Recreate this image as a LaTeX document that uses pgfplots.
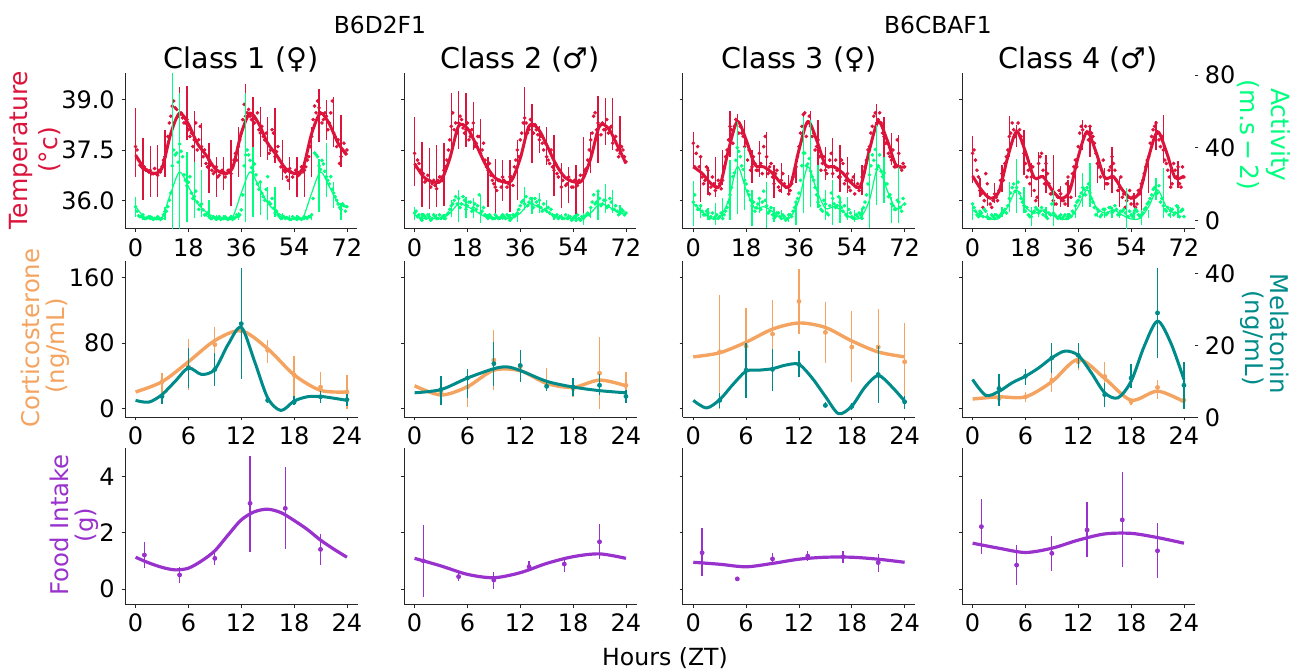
\documentclass[border=0pt]{standalone}
\usepackage{fontspec}
\setmainfont{DejaVu Sans}
\usepackage{pgfplots}
\usepackage{pgfplotstable}
\pgfplotsset{compat=1.18}

\definecolor{crim}{HTML}{DC143C}
\definecolor{sgreen}{HTML}{00FF7F}
\definecolor{sandy}{HTML}{F4A460}
\definecolor{dcyan}{HTML}{008B8B}
\definecolor{orchid}{HTML}{9932CC}

% hourly temperature (t) and activity (a) readings, one pair per class
\pgfplotstableread{
h t1 a1 t2 a2 t3 a3 t4 a4
0 37.6 7.5 37.4 4 37.7 10 37.4 9
1 37.2 2.5 37.2 2 37.4 8 37.2 5
2 37.0 2 36.9 1 37.0 6 36.7 2
3 37.0 1 36.8 3 36.7 5 36.2 4
4 36.9 1.5 36.6 1 36.6 3 36.0 6
5 36.9 1 36.6 2 36.9 4 36.5 2
6 36.8 .5 36.5 1 36.4 2 35.9 1
7 36.8 1 36.45 2 36.5 1 36.0 2
8 36.9 1 36.6 1 36.4 3 36.1 3
9 37.0 1 36.7 1 36.5 2 36.3 2
10 37.3 4.8 36.9 2 36.6 1 36.8 4
11 37.9 7.5 37.2 3 37.3 5 37.1 6
12 38.5 15 37.8 6 37.8 10 37.5 8
13 38.95 38.7 38.6 9 38.1 18 38.0 15
14 38.7 37 38.3 13 38.2 26 38.1 20
15 38.55 42 38.3 12 38.3 40 38.05 18
16 38.45 35 38.4 9 38.2 35 38.1 15
17 38.3 22 38.0 11 37.9 28 37.7 10
18 38.1 21 38.3 8 37.7 20 37.1 5
19 38.0 15 37.9 10 37.5 14 36.9 3
20 37.8 13 38.3 7 37.0 8 36.7 2
21 37.5 10 37.7 6 37.1 5 36.3 5
22 38.2 8.4 37.9 14 36.9 9 36.1 6
23 37.3 5.7 37.5 5 37.1 6 37.3 5
24 37.1 3 37.2 3 37.6 16 36.9 3
25 37.2 2 36.9 1 37.3 8 37.1 2
26 36.9 1 36.75 2 37.0 5 36.5 4
27 36.85 1.5 36.5 1 36.7 3 36.2 9
28 36.7 1 36.3 2 36.8 2 35.9 3
29 36.85 .5 36.6 1 36.4 4 36.1 1
30 36.85 1 36.7 3 36.6 1 36.2 3
31 36.8 1 36.55 1 36.5 2 36.0 2
32 36.9 1 36.5 2 36.4 1 36.5 1
33 37.0 .5 36.7 1 36.3 3 36.4 3
34 37.4 1.5 37.0 2 36.7 5 36.8 5
35 37.6 2 37.5 4 37.0 10 37.2 8
36 38.0 5.7 37.8 8 37.6 15 37.6 11
37 38.85 30 38.3 11 38.2 30 38.2 15
38 38.6 38.7 38.3 13 38.6 37 37.9 17
39 38.5 33 38.1 10 38.3 31 38.0 18
40 38.5 27 38.2 9 38.2 27 38.2 15
41 38.4 25 38.25 12 38.0 22 37.9 10
42 38.1 17 37.95 8 37.6 14 37.4 3
43 38.2 15 37.9 7 37.3 8 37.0 5
44 37.8 11 37.5 9 37.1 5 36.9 3
45 37.7 24 37.3 5 36.9 9 36.7 6
46 37.5 9 37.1 4 37.0 3 36.5 4
47 38.0 6.6 37.0 3 37.4 15 37.0 7
48 37.45 5 37.1 2 37.0 9 37.1 5
49 37.2 2 36.7 1 36.9 8 36.6 6
50 37.0 1.5 36.4 2 36.7 10 36.4 3
51 36.85 1 36.7 1 37.1 5 36.1 5
52 36.6 1 36.5 1 36.6 3 35.8 4
53 36.85 .5 36.6 2 36.4 6 36.1 2
54 36.8 1 36.4 1 36.6 2 35.9 3
55 36.8 .5 36.55 0 36.2 1 36.1 4
56 36.8 1 36.6 1 36.5 2 35.9 5
57 36.85 1 36.6 2 36.4 3 36.2 2
58 37.0 1.5 36.9 2 36.8 7 36.6 4
59 37.3 2 37.2 4 37.2 14 37.0 7
60 37.9 3 37.8 7 37.6 25 37.3 10
61 38.8 37 38.5 14 38.2 36 37.9 14
62 38.95 35 38.1 10 38.6 39 38.2 18
63 38.6 28 38.2 12 38.4 30 38.0 15
64 38.4 31 38.3 9 38.3 27 37.6 10
65 38.5 24 38.1 11 37.9 26 37.5 8
66 38.3 20 38.0 8 37.7 20 37.1 5
67 38.95 17 38.2 10 37.3 14 36.7 3
68 37.9 13 37.8 6 37.5 8 36.5 6
69 37.8 9 37.5 5 37.0 6 36.9 4
70 37.3 6 37.4 4 37.4 10 37.0 7
71 37.7 8 37.5 5 36.9 5 36.4 5
72 37.5 7.5 37.15 4 37.0 9 36.7 2
}\hourly

% readings on the half hour
\pgfplotstableread{
h t1 a1 t2 a2 t3 a3 t4 a4
.5 37.5 5 37.0 5 37.0 14 37.5 7
1.5 37.05 2 37.1 3 37.6 6 36.9 3
2.5 36.95 3 36.8 0 37.3 8 36.3 5
3.5 36.9 1 36.55 2 36.5 3 35.8 2
4.5 36.85 2 36.75 3 37.0 5 36.8 5
5.5 36.8 1.5 36.4 0 36.2 1 36.1 1
6.5 36.95 1 36.6 3 36.7 4 35.8 3
7.5 36.75 2 36.35 1 36.3 2 36.2 1
8.5 36.85 .5 36.7 3 36.6 1 36.0 2
9.5 37.2 3 36.6 2 36.35 4 36.6 3
10.5 37.6 5 37.0 1 37.0 3 36.6 5
11.5 38.3 11 37.5 4 37.5 7 37.3 4
12.5 38.8 30 38.2 8 38.2 14 37.9 12
13.5 38.75 36 38.1 11 37.7 24 38.3 18
14.5 38.5 32 38.0 9 38.4 33 37.9 16
15.5 38.6 38 38.5 7 38.0 38 38.3 21
16.5 38.3 25 38.15 13 38.0 30 37.9 12
17.5 38.4 19 38.1 6 37.6 22 37.4 8
18.5 37.9 24 37.8 10 37.2 16 36.7 7
19.5 37.6 12 38.1 5 36.9 11 36.5 2
20.5 38.3 16 37.6 9 37.3 10 37.0 4
21.5 37.8 6 37.9 8 36.9 7 36.0 7
22.5 37.6 9 37.4 4 37.4 12 37.1 4
23.5 37.5 3 37.7 7 36.8 10 37.4 7
24.5 37.0 4 37.0 2 37.9 11 36.5 5
25.5 37.05 1 37.1 3 36.8 4 36.8 1
26.5 36.8 2 36.6 1 37.1 7 36.2 3
27.5 37.0 .5 36.4 3 36.5 1 36.0 4
28.5 36.75 2 36.6 1 36.9 4 35.9 2
29.5 36.9 1 36.4 2 36.3 2 36.3 2
30.5 36.7 2 36.6 2 36.8 3 36.0 1
31.5 36.9 .5 36.4 3 36.4 0 35.9 3
32.5 36.8 2 36.7 0 36.2 3 36.7 2
33.5 37.2 1 36.45 3 36.5 2 36.1 2
34.5 37.2 3 37.2 3 36.9 7 37.0 4
35.5 37.8 3 37.3 6 37.3 12 37.0 10
36.5 38.4 14 38.0 10 38.0 22 38.0 13
37.5 38.5 36 38.45 9 38.55 37 38.1 18
38.5 38.7 36 38.0 8 37.9 30 38.2 14
39.5 38.4 29 38.4 12 38.5 34 37.8 20
40.5 38.3 31 38.0 7 37.9 24 38.0 12
41.5 38.6 20 38.1 10 37.5 18 37.7 7
42.5 38.0 21 37.8 11 37.8 10 37.1 6
43.5 37.9 13 37.7 5 36.9 6 36.7 2
44.5 38.0 17 37.7 6 37.3 11 37.2 6
45.5 37.4 10 37.2 7 36.8 4 36.5 3
46.5 38.1 12 37.5 6 37.2 8 36.9 7
47.5 37.3 4 36.9 2 36.8 12 37.3 4
48.5 37.6 3 36.8 3 37.2 7 36.9 8
49.5 37.0 1 36.9 2 36.7 13 36.3 3
50.5 36.9 2 36.6 1 37.2 7 36.7 5
51.5 36.7 1.5 36.45 3 36.5 8 36.2 6
52.5 36.95 .5 36.7 2 36.8 2 36.0 2
53.5 36.7 2 36.4 0 36.3 4 36.3 5
54.5 36.9 1 36.6 2 36.7 1 36.1 2
55.5 36.75 1.5 36.45 3 36.4 3 35.8 6
56.5 37.0 .5 36.75 0 36.3 4 36.3 3
57.5 36.9 2 36.75 1 36.7 1 36.5 3
58.5 37.2 1 36.95 3 37.0 10 36.8 6
59.5 37.6 2 37.5 3 37.5 20 37.2 9
60.5 38.4 12 38.0 10 38.0 30 37.7 12
61.5 38.6 36 38.6 9 38.5 33 38.1 17
62.5 38.75 30 38.3 16 38.3 28 38.3 15
63.5 38.3 33 37.95 8 38.6 36 37.8 19
64.5 38.6 27 38.1 11 38.0 24 37.9 12
65.5 38.1 22 38.4 7 37.7 20 37.2 6
66.5 38.6 24 38.15 12 37.4 13 36.9 7
67.5 38.0 15 37.7 6 37.2 9 36.4 5
68.5 37.6 11 37.9 8 37.0 6 37.1 3
69.5 37.1 7 37.3 3 37.8 11 36.7 8
70.5 37.5 9 37.6 6 37.0 7 36.5 2
71.5 37.4 5 37.3 3 37.1 12 37.0 6
}\halfhourly

% fitted curves of the top row
\pgfplotstableread{
h t1 a1 t2 a2 t3 a3 t4 a4
0 37.35 7.5 37.1 3 37.0 9.4 36.73 5.7
3 36.96 1.7 36.71 1 36.81 4.8 36.32 2.9
6 36.81 .7 36.56 1 36.51 1.1 36.07 .7
9 36.96 1.5 36.59 1 36.44 1.5 36.27 1.1
12 37.99 15 37.25 3.9 37.5 11 37.3 7.5
15 38.59 26.6 38.21 9 38.34 29.5 38.04 16.7
18 38.27 18.5 38.14 7.5 37.8 16.7 37.45 7.5
21 37.70 9.5 37.65 4.8 37.06 6.6 36.68 3.9
24 37.35 4.6 37.1 2 37.0 7.5 36.71 5.7
27 36.96 1.7 36.71 1 36.81 4.8 36.32 2.9
30 36.81 .7 36.56 1 36.51 1.1 36.07 .7
33 36.96 1.5 36.59 1 36.44 1.5 36.27 1.1
36 37.99 15 37.25 3.9 37.5 11 37.3 7.5
39 38.59 26.6 38.21 9 38.34 29.5 38.04 16.7
42 38.27 18.5 38.14 7.5 37.8 16.7 37.45 7.5
45 37.70 9.5 37.65 4.8 37.06 6.6 36.68 3.9
48 37.35 4.6 37.1 2 37.0 7.5 36.71 5.7
51 36.96 1.7 36.71 1 36.81 4.8 36.32 2.9
54 36.81 .7 36.56 1 36.51 1.1 36.07 .7
57 36.96 1.5 36.59 1 36.44 1.5 36.27 1.1
60 37.99 15 37.25 3.9 37.5 11 37.3 7.5
63 38.59 26.6 38.21 9 38.34 29.5 38.04 16.7
66 38.27 18.5 38.14 7.5 37.8 16.7 37.45 7.5
69 37.70 9.5 37.65 4.8 37.06 6.6 36.68 3.9
72 37.35 7 37.1 3 37.0 9.4 36.73 5.7
}\topcurves

% error bars of the top row: low and high ends
\pgfplotstableread{
x tlo thi alo ahi
0 36.71 38.73 2 13
2.5 36.02 37.85 0 3
5 36.12 37.63 0 3
7.5 36.12 37.65 0 3
10 36.71 38.09 .2 7.5
12.5 37.1 38.64 -5 81
15 37.8 39.36 -5 70
17.5 37.8 39.38 -.7 37.8
20 37.0 38.64 1 32
22.5 37.0 38.29 2 27.7
25 36.22 37.7 1 11
27.5 36.12 37.3 0 3
30 36.32 37.3 0 3
32.5 35.83 37.8 0 3
35 36.71 38.19 0 4.8
37.5 37.8 39.45 -.7 70
40 37.6 39.08 2 40.5
42.5 37.3 38.78 3 22
45 37.2 38.49 0 18.5
47.5 37.1 38.73 2 18.5
50 36.61 37.8 0 3.9
52.5 36.32 37.3 0 3
55 36.12 37.3 0 3
57.5 36.12 37.2 0 3
60 36.71 38.19 0 3.9
62.5 37.75 39.3 4.8 34
65 37.8 38.98 13 42.4
67.5 37.6 39.08 6.6 21
70 37.0 38.54 0 9.4
}\barsA
\pgfplotstableread{
x tlo thi alo ahi
0 36.44 38.49 .2 7.5
2.5 35.82 37.75 -.2 3.9
5 35.75 37.55 -.2 3.9
7.5 35.82 37.65 0 3.5
10 35.84 37.7 0 3.5
12.5 37.4 39.18 2 11
15 37.52 39.25 -.7 16.7
17.5 37.6 39.18 1 13
20 37.5 38.91 1 12
22.5 37.4 38.42 -1.3 14
25 35.82 37.3 0 3.5
27.5 35.51 37.23 0 3.5
30 36.0 37.2 0 3.5
32.5 35.66 37.2 0 3.5
35 36.02 37.8 -.7 5.7
37.5 37.6 39.36 5.7 18.5
40 37.1 38.86 3.5 13
42.5 37.4 38.21 3.9 15
45 37.06 38.19 3.9 11
47.5 36.15 37.95 0 3.5
50 35.78 37.1 0 3.5
52.5 35.92 37.0 0 3.5
55 35.48 37.06 0 3.5
57.5 35.56 37.88 -2.6 3.9
60 36.81 38.04 1 7.5
62.5 37.1 39.11 .2 15.8
65 37.65 39.05 3.9 19.8
67.5 37.5 39.05 3.9 16.7
70 37.45 38.51 2.9 8.4
}\barsB
\pgfplotstableread{
x tlo thi alo ahi
0 37.0 38.04 -2.9 21.7
2.5 35.97 37.25 1.1 7.5
5 36.17 37.0 .2 6.6
7.5 36.12 37.28 -2.6 9.4
10 36.47 37.5 .2 12
12.5 37.3 38.64 .2 33.2
15 37.5 38.56 3.5 54.3
17.5 37.2 38.39 5.7 40.6
20 36.51 37.5 -2.9 16.7
22.5 36.71 37.78 3.9 11.2
25 36.66 38.04 -4 21.3
27.5 36.07 37.06 -1 7.5
30 36.22 37.1 .2 5.7
32.5 36.17 36.76 -.7 3.9
35 36.51 37.1 -2.6 9.4
37.5 37.0 38.54 3.9 57
40 37.3 38.65 7.5 55
42.5 37.0 38.39 6.6 30.5
45 36.61 37.6 .2 16.7
47.5 36.66 37.85 -2.6 22.2
50 36.27 37.65 -1.3 13
52.5 36.22 37.28 .2 13
55 36.42 36.81 -.7 5.7
57.5 36.17 37.06 .2 6.6
60 36.32 37.4 -4.4 36.9
62.5 37.5 38.85 8.4 52.5
65 37.2 38.49 9.4 35
67.5 37.06 37.99 -1.7 13
70 36.51 37.94 -1.7 29.5
}\barsC
\pgfplotstableread{
x tlo thi alo ahi
0 36.51 37.92 .2 10.3
2.5 36.12 36.66 2 5.7
5 35.84 36.22 .2 3.9
7.5 35.92 36.51 .2 3.9
10 36.27 37.06 2 7.5
12.5 37.3 38.51 4.8 21.3
15 37.6 38.24 3.9 34
17.5 36.76 38.09 3.9 18.5
20 36.12 37.1 -2.9 7.5
22.5 35.82 37.45 2 5.7
25 36.22 37.35 1.1 7.5
27.5 35.73 37.35 -2.9 16.7
30 35.82 36.42 .2 3.9
32.5 35.82 36.61 .2 3.9
35 36.12 37.0 1.1 7.5
37.5 37.5 38.39 7.5 25.9
40 37.3 38.24 7.5 31.4
42.5 36.51 37.3 2 5.7
45 36.32 36.96 1.1 5.7
47.5 36.22 37.6 1.1 7.5
50 35.82 36.66 1.1 5.7
52.5 35.53 36.37 -4.8 17.6
55 35.82 36.22 .2 5.7
57.5 35.63 36.37 -2.6 5.7
60 36.22 37.1 1.1 5.7
62.5 37.5 38.37 11.2 23
65 37.1 38.54 1.1 28.6
67.5 36.42 37.16 1.1 7.5
70 36.37 37.16 1.1 8.4
}\barsD

% hormones: point, low and high end, every 3 h
\pgfplotstableread{
x c clo chi m mlo mhi
3 32.5 8 43 5.8 3.8 6.6
6 51 22 85 13.7 8.2 19.3
9 78 57 100 13.3 8.6 17.9
12 95 55 135 26 10.5 41.6
15 71 55 84 4.7 4 5.4
18 41 10 64 4.2 3.5 5.8
21 26 6 45 5.7 4 7.2
24 20 -1 41 4.9 3 6.6
}\hormA
\pgfplotstableread{
x c clo chi m mlo mhi
3 20 4 39 7.7 3.5 11.4
6 26 2 47 10.9 5.4 13.5
9 59 22 96 14.9 8.6 20.9
12 51 33 71 14.4 9.8 18.8
15 30 22 49 8.6 7.2 10
18 24 14 37 8.4 5.8 10.9
21 43 -1 87 8.9 6.3 11.9
24 28 10 45 5.8 4 7.7
}\hormB
\pgfplotstableread{
x c clo chi m mlo mhi
3 69 -1 139 4.7 2.6 6.8
6 76 30 123 13.1 5.4 20.7
9 91 53 133 13.3 7.2 19.1
12 131 91 171 14.7 11.1 18.4
15 93 56 130 3.3 2.6 4.2
18 75 32 119 3 2.1 4
21 75 30 122 11.9 4 19.8
24 57 6 104 4.3 2.3 5.8
}\hormC
\pgfplotstableread{
x c clo chi m mlo mhi
3 12 4 24 8 3.2 12
6 14 8 20 11.4 9.1 13.5
9 34.5 20 43 16.5 12.3 20.7
12 57 47.5 67 17.2 13.7 20.7
15 39 12 57 6.3 2.9 9.6
18 8 4 12 10.9 8.2 14.7
21 25.6 12 35 29 16.5 41.6
24 10 7 14 8.9 2.3 15.4
}\hormD

% food intake
\pgfplotstableread{
x y lo hi
1 1.21 .74 1.68
5 .5 .23 .77
9 1.09 .85 1.39
13 3.05 1.33 4.74
17 2.87 1.41 4.33
21 1.41 .85 1.95
}\foodA
\pgfplotstableread{
x y lo hi
1 1.0 -.3 2.28
5 .44 .3 .56
9 .32 0 .62
13 .79 .65 1.01
17 .89 .59 1.15
21 1.68 1.06 2.31
}\foodB
\pgfplotstableread{
x y lo hi
1 1.29 .46 2.16
5 .36 .32 .40
9 1.07 .85 1.27
13 1.17 1.01 1.36
17 1.15 .94 1.36
21 .94 .62 1.23
}\foodC
\pgfplotstableread{
x y lo hi
1 2.22 1.25 3.19
5 .85 .14 1.57
9 1.27 .65 1.89
13 2.1 1.13 3.08
17 2.46 .77 4.15
21 1.36 .38 2.36
}\foodD

\pgfplotsset{
  panel/.style={
    scale only axis, width=116.25pt, anchor=south west,
    axis x line*=bottom, axis y line*=left,
    axis line style={-, line width=.5pt, black!85},
    tick style={line width=.4pt, black!85},
    tick align=outside, major tick length=1.6pt,
    /pgf/number format/assume math mode=true,
    tick label style={font=\fontsize{12}{12}\selectfont},
    xticklabel style={yshift=.5pt},
    clip=true},
  overpanel/.style={
    scale only axis, width=116.25pt, anchor=south west, hide axis},
  overticks/.style={
    scale only axis, width=116.25pt, anchor=south west,
    axis x line=none, axis y line*=right,
    axis line style={draw=none},
    tick style={line width=.4pt, black!85},
    tick align=outside, major tick length=1.6pt,
    /pgf/number format/assume math mode=true,
    tick label style={font=\fontsize{12}{12}\selectfont}},
  leftbars/.style={error bars/.cd, y dir=plus, y explicit, error mark=none,
    error bar style={line width=.7pt, #1}},
  dots/.style={only marks, mark=*, mark size=.7pt, #1,
    mark options={draw=none, fill=#1}},
  points/.style={only marks, mark=*, mark size=1pt, #1,
    mark options={draw=none, fill=#1},
    error bars/.cd, y dir=both, y explicit, error mark=none,
    error bar style={line width=.65pt, #1}},
}

% #1 x, #2 y tick labels, #3 class number, #4 bars, #5 style of the activity axis
\newcommand{\toppanel}[5]{
  \begin{axis}[panel, at={(#1,221.5pt)}, height=78pt,
      xmin=-3.6, xmax=75.6, ymin=35.16, ymax=39.78,
      xtick={0,18,36,54,72}, ytick={36,37.5,39}, #2]
    \addplot[dots=crim] table[x=h, y=t#3] {\hourly};
    \addplot[dots=crim] table[x=h, y=t#3] {\halfhourly};
    \addplot[draw=none, forget plot, leftbars={crim}]
      table[x=x, y=tlo, y error plus expr=\thisrow{thi}-\thisrow{tlo}] {#4};
    \addplot[crim, line width=1.5pt, smooth] table[x=h, y=t#3] {\topcurves};
  \end{axis}
  \begin{axis}[#5, at={(#1,221.5pt)}, height=78pt,
      xmin=-3.6, xmax=75.6, ymin=-4.8, ymax=81.1]
    \addplot[dots=sgreen] table[x=h, y=a#3] {\hourly};
    \addplot[dots=sgreen] table[x=h, y=a#3] {\halfhourly};
    \addplot[draw=none, forget plot, leftbars={sgreen}]
      table[x=x, y=alo, y error plus expr=\thisrow{ahi}-\thisrow{alo}] {#4};
    \addplot[sgreen, line width=.6pt, smooth] table[x=h, y=a#3] {\topcurves};
  \end{axis}
}

% #1 x, #2 y tick labels, #3 table, #4 corticosterone curve, #5 melatonin curve, #6 style of right axis
\newcommand{\midpanel}[6]{
  \begin{axis}[panel, at={(#1,127.35pt)}, height=78.3pt,
      xmin=-1.2, xmax=25.2, ymin=-11, ymax=180.8,
      xtick={0,6,12,18,24}, ytick={0,80,160}, #2]
    \addplot[points=sandy]
      table[x=x, y=c, y error plus expr=\thisrow{chi}-\thisrow{c},
            y error minus expr=\thisrow{c}-\thisrow{clo}] {#3};
    \addplot[sandy, line width=1.7pt, smooth] coordinates {#4};
  \end{axis}
  \begin{axis}[#6, at={(#1,127.35pt)}, height=78.3pt,
      xmin=-1.2, xmax=25.2, ymin=0, ymax=43.5]
    \addplot[points=dcyan]
      table[x=x, y=m, y error plus expr=\thisrow{mhi}-\thisrow{m},
            y error minus expr=\thisrow{m}-\thisrow{mlo}] {#3};
    \addplot[dcyan, line width=1.5pt, smooth] coordinates {#5};
  \end{axis}
}

% #1 x, #2 y tick labels, #3 table, #4 curve
\newcommand{\foodpanel}[4]{
  \begin{axis}[panel, at={(#1,33.65pt)}, height=78.2pt,
      xmin=-1.2, xmax=25.2, ymin=-.56, ymax=5.01,
      xtick={0,6,12,18,24}, ytick={0,2,4}, #2]
    \addplot[points=orchid]
      table[x=x, y=y, y error plus expr=\thisrow{hi}-\thisrow{y},
            y error minus expr=\thisrow{y}-\thisrow{lo}] {#3};
    \addplot[orchid, line width=1.6pt, smooth] coordinates {#4};
  \end{axis}
}

\begin{document}
\begin{tikzpicture}
\path[use as bounding box] (0,0) rectangle (647pt,336pt);

\toppanel{62.5pt}{yticklabels={36.0,37.5,39.0}}{1}{\barsA}{overpanel}
\toppanel{202pt}{yticklabels={}}{2}{\barsB}{overpanel}
\toppanel{341.35pt}{yticklabels={}}{3}{\barsC}{overpanel}
\toppanel{481pt}{yticklabels={}}{4}{\barsD}{overticks, ytick={0,40,80}}

\midpanel{62.5pt}{yticklabels={0,80,160}}{\hormA}
  {(0,20) (3,32.5) (6,57) (9,83) (12,95) (15,73) (18,41) (21,22) (24,20)}
  {(0,4.7) (1.5,4.2) (3,6.3) (4.5,10) (6,13.7) (7.5,11.9) (9,13.3) (10.5,20.2) (12,25) (13.5,15.6) (15,5.4) (16.5,1.9) (18,4.5) (19.5,5.7) (21,5.8) (22.5,5.3) (24,4.7)}
  {overpanel}
\midpanel{202pt}{yticklabels={}}{\hormB}
  {(0,27.6) (3,16.3) (6,26.4) (9,46.7) (12,46) (15,30.5) (18,25.6) (21,34.6) (24,27.6)}
  {(0,6.8) (3,7.7) (6,10.9) (9,13.5) (10.5,14) (12,13) (15,10) (18,8.4) (21,7.4) (24,6.8)}
  {overpanel}
\midpanel{341.35pt}{yticklabels={}}{\hormC}
  {(0,63) (3,68) (6,81) (9,97) (12,104.5) (15,99) (18,82.5) (21,69) (24,63)}
  {(0,4.7) (1.5,2.6) (3,4.9) (4.5,9.1) (6,12.8) (7.5,13.1) (9,13.5) (10.5,14.5) (12,14.7) (13.5,10.9) (15,5.8) (16.5,1) (18,3.1) (19.5,8.4) (21,11.6) (22.5,8.6) (24,4.5)}
  {overpanel}
\midpanel{481pt}{yticklabels={}}{\hormD}
  {(0,11.4) (3,14) (6,14) (9,32.5) (12,60) (15,36.6) (18,10) (21,21) (24,8)}
  {(0,10.5) (1.5,6.1) (3,7.2) (4.5,9.6) (6,11.4) (7.5,13.7) (9,16.5) (10.5,18.4) (12,17.2) (13.5,12.3) (15,6.8) (16.5,5.4) (18,10) (19.5,19.8) (21,26.7) (22.5,20.7) (24,10.5)}
  {overticks, ytick={0,20,40}}

\foodpanel{62.5pt}{yticklabels={0,2,4}}{\foodA}
  {(0,1.13) (1.5,.93) (3,.77) (4.5,.68) (6,.74) (7.5,1.0) (9,1.36) (10.5,1.92) (12,2.46) (13.5,2.75) (15,2.84) (16.5,2.72) (18,2.44) (19.5,2.12) (21,1.74) (22.5,1.42) (24,1.13)}
\foodpanel{202pt}{yticklabels={}}{\foodB}
  {(0,1.09) (3,.82) (6,.52) (9,.40) (12,.58) (15,.91) (18,1.15) (21,1.25) (24,1.09)}
\foodpanel{341.35pt}{yticklabels={}}{\foodC}
  {(0,.95) (3,.88) (6,.79) (9,.91) (12,1.06) (15,1.13) (18,1.13) (21,1.06) (24,.95)}
\foodpanel{481pt}{yticklabels={}}{\foodD}
  {(0,1.63) (3,1.45) (6,1.30) (9,1.45) (12,1.74) (15,1.96) (18,1.98) (21,1.83) (24,1.63)}

% titles and axis names, placed in page coordinates (1 px = .5 pt)
\node[font=\fontsize{11.7}{12}\selectfont] at (190pt,323.5pt) {B6D2F1};
\node[font=\fontsize{11.7}{12}\selectfont] at (469pt,323.5pt) {B6CBAF1};
\node[font=\fontsize{14.3}{14}\selectfont] at (120.5pt,306.2pt) {Class 1 (♀)};
\node[font=\fontsize{14.3}{14}\selectfont] at (260pt,306.2pt) {Class 2 (♂)};
\node[font=\fontsize{14.3}{14}\selectfont] at (399.5pt,306.2pt) {Class 3 (♀)};
\node[font=\fontsize{14.3}{14}\selectfont] at (539pt,306.2pt) {Class 4 (♂)};
\node[font=\fontsize{11.8}{12}\selectfont] at (332.5pt,7pt) {Hours (ZT)};

\node[rotate=90, crim, font=\fontsize{12.5}{12.5}\selectfont] at (10.5pt,261pt) {Temperature};
\node[rotate=90, crim, font=\fontsize{12.5}{12.5}\selectfont] at (25pt,261pt) {(°c)};
\node[rotate=90, sandy, font=\fontsize{12.2}{12.5}\selectfont] at (15pt,167pt) {Corticosterone};
\node[rotate=90, sandy, font=\fontsize{12.2}{12.5}\selectfont] at (29pt,163pt) {(ng/mL)};
\node[rotate=90, orchid, font=\fontsize{12.2}{12.5}\selectfont] at (29.5pt,73.5pt) {Food Intake};
\node[rotate=90, orchid, font=\fontsize{12.2}{12.5}\selectfont] at (43.5pt,73.5pt) {(g)};
\node[rotate=-90, sgreen, font=\fontsize{12.5}{12.5}\selectfont] at (639pt,268.5pt) {Activity};
\node[rotate=-90, sgreen, font=\fontsize{12.5}{12.5}\selectfont] at (624pt,268.5pt) {(m.s\,−\,2)};
\node[rotate=-90, dcyan, font=\fontsize{12.2}{12.5}\selectfont] at (640pt,169pt) {Melatonin};
\node[rotate=-90, dcyan, font=\fontsize{12.2}{12.5}\selectfont] at (626pt,167pt) {(ng/mL)};
\end{tikzpicture}
\end{document}
